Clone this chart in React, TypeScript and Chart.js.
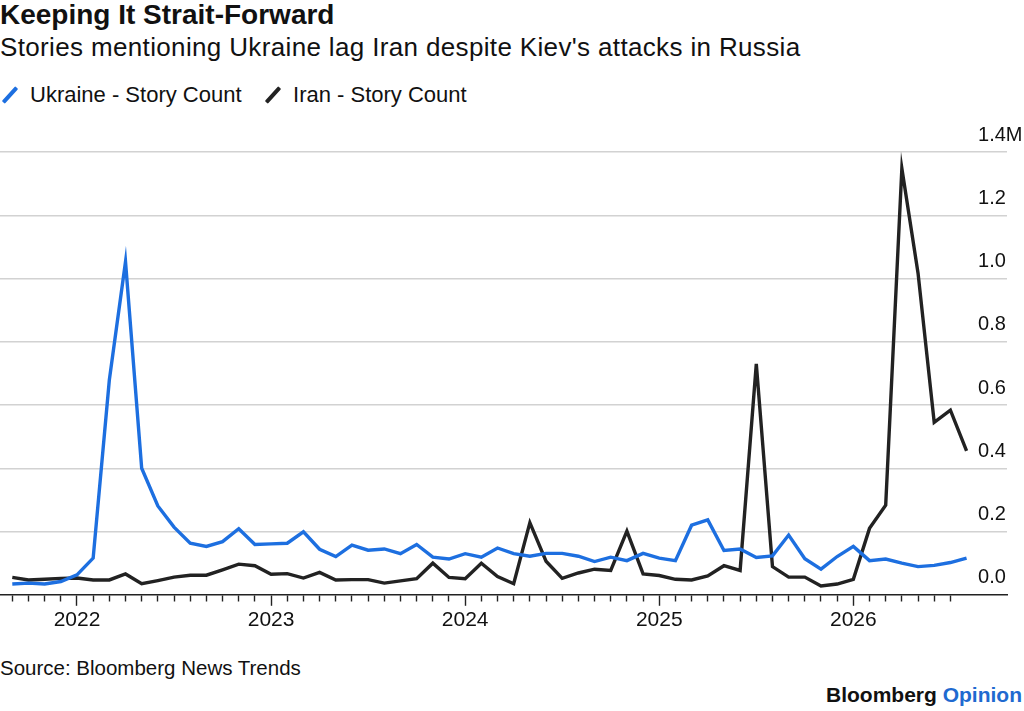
import { useEffect, useRef } from 'react'
import Chart from 'chart.js/auto'

// monthly, Sep 2021 .. Aug 2026
const months = [
  '2021-09', '2021-10', '2021-11', '2021-12',
  '2022-01', '2022-02', '2022-03', '2022-04', '2022-05', '2022-06',
  '2022-07', '2022-08', '2022-09', '2022-10', '2022-11', '2022-12',
  '2023-01', '2023-02', '2023-03', '2023-04', '2023-05', '2023-06',
  '2023-07', '2023-08', '2023-09', '2023-10', '2023-11', '2023-12',
  '2024-01', '2024-02', '2024-03', '2024-04', '2024-05', '2024-06',
  '2024-07', '2024-08', '2024-09', '2024-10', '2024-11', '2024-12',
  '2025-01', '2025-02', '2025-03', '2025-04', '2025-05', '2025-06',
  '2025-07', '2025-08', '2025-09', '2025-10', '2025-11', '2025-12',
  '2026-01', '2026-02', '2026-03', '2026-04', '2026-05', '2026-06',
  '2026-07', '2026-08',
]

// story counts, millions
const ukraineCounts = [
  0.034, 0.037, 0.034, 0.042,
  0.063, 0.116, 0.679, 1.053, 0.4, 0.281, 0.214, 0.163, 0.153, 0.168, 0.209, 0.159,
  0.161, 0.163, 0.199, 0.144, 0.121, 0.157, 0.141, 0.145, 0.13, 0.159, 0.119, 0.113,
  0.13, 0.119, 0.148, 0.13, 0.122, 0.131, 0.131, 0.122, 0.105, 0.119, 0.108, 0.131,
  0.116, 0.108, 0.22, 0.237, 0.14, 0.145, 0.118, 0.123, 0.189, 0.114, 0.081, 0.121,
  0.153, 0.108, 0.113, 0.1, 0.089, 0.093, 0.102, 0.116,
]

const iranCounts = [
  0.055, 0.047, 0.049, 0.052,
  0.053, 0.047, 0.047, 0.066, 0.035, 0.045, 0.056, 0.062, 0.062, 0.079, 0.097, 0.092,
  0.065, 0.067, 0.053, 0.071, 0.047, 0.048, 0.048, 0.037, 0.044, 0.051, 0.1, 0.055,
  0.051, 0.1, 0.058, 0.035, 0.228, 0.106, 0.052, 0.069, 0.081, 0.077, 0.201, 0.066,
  0.061, 0.049, 0.047, 0.06, 0.092, 0.077, 0.73, 0.089, 0.056, 0.056, 0.028, 0.034,
  0.049, 0.21, 0.283, 1.348, 1.017, 0.545, 0.584, 0.455,
]

const yearLabels = ['2022', '2023', '2024', '2025', '2026']
const yTickLabels = ['0.0', '0.2', '0.4', '0.6', '0.8', '1.0', '1.2', '1.4M']

const FONT = '"Liberation Sans", Arial, Helvetica, sans-serif'
const BLUE = '#1d6fe0'
const INK = '#222222'

// months since Jan 2022
function monthOffset(label: string) {
  const [y, m] = label.split('-').map(Number)
  return (y - 2022) * 12 + (m - 1)
}

function toPoints(values: number[]) {
  return values.map((v, i) => ({ x: monthOffset(months[i]), y: v }))
}

function StoryChart() {
  const canvasRef = useRef<HTMLCanvasElement | null>(null)

  useEffect(() => {
    if (!canvasRef.current) return undefined
    const lastTick = monthOffset(months[months.length - 2])

    const chart = new Chart(canvasRef.current, {
      type: 'line',
      data: {
        datasets: [
          {
            label: 'Ukraine - Story Count',
            data: toPoints(ukraineCounts),
            borderColor: BLUE,
            backgroundColor: BLUE,
            borderWidth: 3.4,
            pointRadius: 0,
            tension: 0,
          },
          {
            label: 'Iran - Story Count',
            data: toPoints(iranCounts),
            borderColor: INK,
            backgroundColor: INK,
            borderWidth: 3.4,
            pointRadius: 0,
            tension: 0,
          },
        ],
      },
      options: {
        animation: false,
        responsive: true,
        maintainAspectRatio: false,
        layout: { padding: { top: 42, bottom: 15, left: 0, right: 0 } },
        plugins: {
          legend: { display: false },
          tooltip: { enabled: false },
        },
        scales: {
          x: {
            type: 'linear',
            min: -4.76,
            max: 57.5,
            border: { color: INK, width: 1.5 },
            grid: {
              drawOnChartArea: false,
              tickLength: 11,
              tickWidth: 1.4,
              tickColor: (ctx) =>
                ctx.tick && ctx.tick.value > lastTick ? 'rgba(0,0,0,0)' : INK,
              tickBorderDash: (ctx) =>
                ctx.tick && ctx.tick.value % 12 === 0 ? [] : [6, 30],
            },
            ticks: {
              stepSize: 1,
              autoSkip: false,
              maxRotation: 0,
              includeBounds: false,
              padding: 2,
              color: '#111',
              font: { family: FONT, size: 21 },
              callback: (value) => {
                const v = Number(value)
                return v % 12 === 0 ? yearLabels[v / 12] ?? '' : ''
              },
            },
          },
          y: {
            position: 'right',
            min: 0,
            max: 1.4,
            border: { display: false },
            grid: {
              drawTicks: false,
              lineWidth: 1.5,
              color: (ctx) =>
                ctx.tick && Math.abs(ctx.tick.value) < 1e-9 ? 'rgba(0,0,0,0)' : '#d2d2d2',
            },
            ticks: {
              stepSize: 0.2,
              mirror: true,
              crossAlign: 'far',
              padding: 15.5,
              labelOffset: -17,
              color: '#111',
              font: { family: FONT, size: 20 },
              callback: (value) => yTickLabels[Math.round(Number(value) / 0.2)] ?? '',
            },
            afterFit: (scale) => {
              scale.width = 17
            },
          },
        },
      },
    })

    return () => {
      chart.destroy()
    }
  }, [])

  return (
    <div style={{ position: 'absolute', left: 0, top: 110, width: 1024, height: 540 }}>
      <canvas ref={canvasRef} />
    </div>
  )
}

function LegendMark({ color }: { color: string }) {
  return (
    <span
      style={{
        display: 'inline-block',
        width: 4,
        height: 20,
        background: color,
        borderRadius: 1,
        transform: 'rotate(42deg)',
        marginLeft: 7.5,
        marginRight: 18.5,
        verticalAlign: -3,
      }}
    />
  )
}

export default function App() {
  return (
    <div
      style={{
        position: 'relative',
        width: 1024,
        height: 711,
        overflow: 'hidden',
        background: '#fff',
        fontFamily: FONT,
        color: '#111',
      }}
    >
      <style>{'body{margin:0}'}</style>
      <div style={{ position: 'absolute', left: 0, top: 1, fontSize: 28, lineHeight: '28px', fontWeight: 700 }}>
        Keeping It Strait-Forward
      </div>
      <div
        style={{
          position: 'absolute',
          left: 0,
          top: 34,
          fontSize: 26,
          lineHeight: '26px',
          letterSpacing: 0.35,
          whiteSpace: 'nowrap',
        }}
      >
        Stories mentioning Ukraine lag Iran despite Kiev's attacks in Russia
      </div>
      <div style={{ position: 'absolute', left: 0, top: 84, fontSize: 22, lineHeight: '22px', whiteSpace: 'nowrap' }}>
        <span style={{ marginRight: 21.5 }}>
          <LegendMark color={BLUE} />
          Ukraine - Story Count
        </span>
        <span>
          <LegendMark color={INK} />
          Iran - Story Count
        </span>
      </div>
      <StoryChart />
      <div style={{ position: 'absolute', left: 0, top: 658, fontSize: 20.5, lineHeight: '20.5px' }}>
        Source: Bloomberg News Trends
      </div>
      <div
        style={{
          position: 'absolute',
          right: 2,
          top: 684,
          fontSize: 21,
          lineHeight: '21px',
          fontWeight: 700,
        }}
      >
        Bloomberg <span style={{ color: '#1f6ad0' }}>Opinion</span>
      </div>
    </div>
  )
}
